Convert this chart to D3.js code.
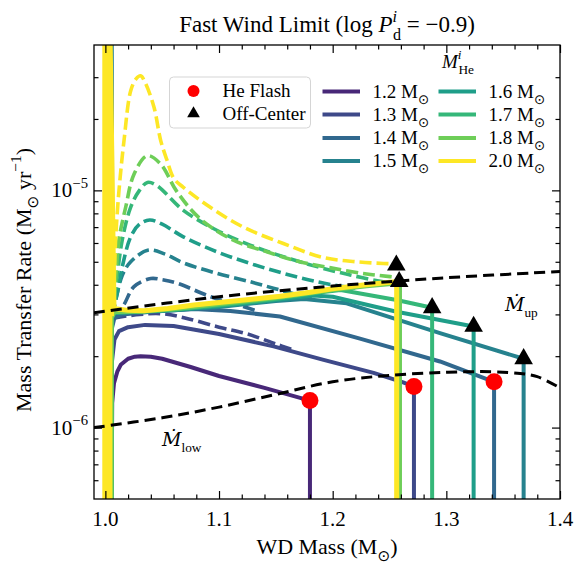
<!DOCTYPE html>
<html>
<head>
<meta charset="utf-8">
<script src="https://cdn.jsdelivr.net/npm/d3@7"></script>
<style>
  body { margin: 0; background: #fff; }
  svg { display: block; }
</style>
</head>
<body>
<div id="chart"></div>
<script>
// initial He-star masses (legend order)
const masses = [1.2, 1.3, 1.4, 1.5, 1.6, 1.7, 1.8, 2.0];

// solid tracks: [WD mass, mass transfer rate]
const solid12 = [[1.0055, 5e-7], [1.006, 1.27e-6], [1.0076, 1.54e-6], [1.0105, 1.72e-6], [1.0135, 1.84e-6], [1.02, 1.95e-6], [1.026, 1.99e-6], [1.031, 2.0e-6], [1.04, 1.99e-6], [1.05, 1.95e-6], [1.075, 1.8e-6], [1.1, 1.65e-6], [1.14, 1.47e-6], [1.18, 1.3e-6], [1.18, 5e-7]];
const solid13 = [[1.0055, 5e-7], [1.0058, 1.9e-6], [1.008, 2.35e-6], [1.012, 2.55e-6], [1.02, 2.65e-6], [1.035, 2.71e-6], [1.06, 2.68e-6], [1.1, 2.48e-6], [1.148, 2.2e-6], [1.192, 1.93e-6], [1.236, 1.7e-6], [1.262, 1.55e-6], [1.2715, 1.49e-6], [1.2715, 5e-7]];
const solid14 = [[1.0055, 5e-7], [1.0056, 2.6e-6], [1.008, 2.9e-6], [1.015, 3.0e-6], [1.04, 3.08e-6], [1.078, 3.16e-6], [1.11, 3.1e-6], [1.1536, 2.94e-6], [1.224, 2.37e-6], [1.2944, 1.9e-6], [1.342, 1.56e-6], [1.342, 5e-7]];
const solid15 = [[1.0056, 5e-7], [1.0056, 5e-5], [1.0062, 3.0e-6], [1.009, 3.05e-6], [1.03, 3.08e-6], [1.06, 3.12e-6], [1.1, 3.22e-6], [1.15, 3.42e-6], [1.175, 3.48e-6], [1.2123, 3.34e-6], [1.2944, 2.5e-6], [1.368, 1.95e-6], [1.368, 5e-7]];
const solid16 = [[1.0055, 5e-7], [1.0056, 2.9e-6], [1.008, 3.05e-6], [1.03, 3.08e-6], [1.06, 3.13e-6], [1.1, 3.25e-6], [1.15, 3.45e-6], [1.183, 3.6e-6], [1.2, 3.56e-6], [1.2563, 3.08e-6], [1.324, 2.67e-6], [1.324, 5e-7]];
const solid17 = [[1.0055, 5e-7], [1.0056, 2.9e-6], [1.008, 3.05e-6], [1.03, 3.08e-6], [1.06, 3.14e-6], [1.1, 3.28e-6], [1.15, 3.48e-6], [1.19, 3.72e-6], [1.207, 3.8e-6], [1.2563, 3.45e-6], [1.2875, 3.2e-6], [1.2875, 5e-7]];
const solid18 = [[1.0055, 5e-7], [1.0056, 2.9e-6], [1.008, 3.07e-6], [1.03, 3.08e-6], [1.06, 3.15e-6], [1.1, 3.31e-6], [1.15, 3.52e-6], [1.2, 3.8e-6], [1.23, 3.94e-6], [1.2592, 4.06e-6], [1.2592, 5e-7]];
const solid20 = [[0.9995, 5e-7], [0.9995, 5e-5], [1.0018, 5e-5], [1.0018, 5e-7], [1.004, 5e-7], [1.004, 5e-5], [1.0076, 3.18e-6], [1.02, 3.12e-6], [1.034, 3.11e-6], [1.055, 3.18e-6], [1.078, 3.29e-6], [1.1, 3.37e-6], [1.122, 3.45e-6], [1.1536, 3.58e-6], [1.18, 3.72e-6], [1.2, 3.85e-6], [1.225, 3.98e-6], [1.2504, 4.1e-6], [1.2563, 4.12e-6], [1.2563, 5e-7]];

// dashed tracks
const dashed13 = [[1.008, 2.9e-6], [1.03, 3.0e-6], [1.05, 3.02e-6], [1.07, 2.9e-6], [1.1, 2.65e-6], [1.125, 2.48e-6], [1.15, 2.25e-6], [1.165, 2.13e-6]];
const dashed14 = [[1.006, 2.95e-6], [1.012, 3.1e-6], [1.0164, 3.3e-6], [1.0252, 3.93e-6], [1.0399, 4.25e-6], [1.05, 4.2e-6], [1.0633, 4.06e-6], [1.0927, 3.56e-6], [1.122, 3.23e-6], [1.135, 3.08e-6]];
const dashed15 = [[1.006, 2.95e-6], [1.01, 3.6e-6], [1.015, 4.4e-6], [1.0223, 5.0e-6], [1.038, 5.6e-6], [1.052, 5.4e-6], [1.0686, 4.95e-6], [1.098, 4.47e-6], [1.1273, 4.12e-6], [1.1478, 3.87e-6], [1.17, 3.62e-6], [1.185, 3.5e-6]];
const dashed16 = [[1.006, 2.95e-6], [1.011, 3.8e-6], [1.0149, 4.77e-6], [1.0223, 6.37e-6], [1.03, 7.2e-6], [1.039, 7.5e-6], [1.05, 7.2e-6], [1.0686, 6.37e-6], [1.098, 5.51e-6], [1.1273, 4.92e-6], [1.1566, 4.47e-6], [1.186, 4.12e-6], [1.2093, 3.93e-6], [1.22, 3.88e-6]];
const dashed17 = [[1.006, 2.95e-6], [1.01, 4.2e-6], [1.0149, 6.2e-6], [1.0223, 8.5e-6], [1.03, 1.0e-5], [1.037, 1.08e-5], [1.045, 1.05e-5], [1.0686, 8.24e-6], [1.098, 6.79e-6], [1.1273, 5.88e-6], [1.1566, 5.25e-6], [1.186, 4.77e-6], [1.2152, 4.4e-6], [1.2445, 4.12e-6], [1.255, 4.08e-6]];
const dashed18 = [[1.006, 2.95e-6], [1.009, 4.2e-6], [1.012, 6.2e-6], [1.0179, 8.5e-6], [1.0252, 1.17e-5], [1.0369, 1.4e-5], [1.0487, 1.29e-5], [1.0628, 9.9e-6], [1.0833, 7.6e-6], [1.1126, 6.17e-6], [1.142, 5.51e-6], [1.1712, 5.0e-6], [1.2006, 4.69e-6], [1.2299, 4.44e-6], [1.2504, 4.33e-6], [1.256, 4.3e-6]];
const dashed20 = [[1.006, 2.95e-6], [1.008, 4.5e-6], [1.009, 6.2e-6], [1.012, 1.0e-5], [1.0164, 1.62e-5], [1.0223, 2.63e-5], [1.027, 2.95e-5], [1.031, 3.04e-5], [1.035, 2.85e-5], [1.0428, 2.24e-5], [1.0487, 1.62e-5], [1.054, 1.35e-5], [1.0604, 1.12e-5], [1.0686, 1.03e-5], [1.092, 8.5e-6], [1.1214, 7.0e-6], [1.1566, 5.97e-6], [1.1917, 5.21e-6], [1.2211, 5.0e-6], [1.2445, 4.92e-6], [1.2555, 4.9e-6]];

// stability limits
const mdotUp = [[0.99, 3.05e-6], [1.1, 3.56e-6], [1.2, 3.95e-6], [1.3, 4.28e-6], [1.4, 4.55e-6]];
const mdotLow = [[0.99, 1.0e-6], [1.05, 1.1e-6], [1.1, 1.22e-6], [1.15, 1.38e-6], [1.2, 1.56e-6], [1.25, 1.66e-6], [1.3, 1.71e-6], [1.34, 1.72e-6], [1.365, 1.69e-6], [1.38, 1.64e-6], [1.4, 1.47e-6]];

// end points
const heFlash = [[1.18, 1.3e-6], [1.2715, 1.49e-6], [1.342, 1.56e-6]];
const offCenter = [[1.256, 4.84e-6], [1.2585, 4.12e-6], [1.2875, 3.2e-6], [1.324, 2.67e-6], [1.368, 1.95e-6]];

// axes
const xDomain = [0.99, 1.4];
const yDomain = [5e-7, 4.1e-5];
const xMajor = [1.0, 1.1, 1.2, 1.3, 1.4];
const xMinor = [1.02, 1.04, 1.06, 1.08, 1.12, 1.14, 1.16, 1.18, 1.22, 1.24, 1.26, 1.28, 1.32, 1.34, 1.36, 1.38];
const yMajor = [1e-6, 1e-5];
const yMajorExp = ["−6", "−5"];
const yMinor = [6e-7, 7e-7, 8e-7, 9e-7, 2e-6, 3e-6, 4e-6, 5e-6, 6e-6, 7e-6, 8e-6, 9e-6, 2e-5, 3e-5];

const solids = [solid12, solid13, solid14, solid15, solid16, solid17, solid18, solid20];
const dashes = [null, dashed13, dashed14, dashed15, dashed16, dashed17, dashed18, dashed20];

const W = 588, H = 570;
const plot = { left: 94, right: 560, top: 45, bottom: 499 };
const serif = "Liberation Serif";
const symbolFont = "DejaVu Sans";   // has the sun symbol
const dotFont = "DejaVu Serif";     // has M with dot above

const x = d3.scaleLinear().domain(xDomain).range([plot.left, plot.right]);
const y = d3.scaleLog().domain(yDomain).range([plot.bottom, plot.top]);
const color = d3.scaleSequential(d3.interpolateViridis).domain([1.1, 2.0]);

const svg = d3.select("#chart").append("svg")
  .attr("width", W).attr("height", H)
  .attr("viewBox", [0, 0, W, H])
  .attr("font-family", serif);

svg.append("defs").append("clipPath").attr("id", "clip")
  .append("rect")
  .attr("x", plot.left).attr("y", plot.top)
  .attr("width", plot.right - plot.left).attr("height", plot.bottom - plot.top);

// writes a label made of plain / italic / sub / sup pieces
function mathText(text, parts, size) {
  let shift = 0;
  text.attr("font-family", serif);
  parts.forEach((p) => {
    const t = text.append("tspan").text(p.t);
    const target = p.sup ? -0.45 * size : p.sub ? 0.33 * size : 0;
    t.attr("dy", target - shift);
    shift = target;
    if (p.sup || p.sub) t.attr("font-size", size * 0.7);
    if (p.it) t.attr("font-style", "italic");
    if (p.dx) t.attr("dx", p.dx);
    if (p.font) t.attr("font-family", p.font);
  });
  return text;
}

const lineSolid = d3.line()
  .x((d) => x(d[0]))
  .y((d) => y(d[1]));

const lineSmooth = d3.line()
  .x((d) => x(d[0]))
  .y((d) => y(d[1]))
  .curve(d3.curveCatmullRom.alpha(0.5));

const tracks = svg.append("g").attr("clip-path", "url(#clip)");

masses.forEach((m, i) => {
  const c = color(m);
  tracks.append("path")
    .attr("d", lineSolid(solids[i]))
    .attr("fill", "none")
    .attr("stroke", c)
    .attr("stroke-width", m === 2.0 ? 5 : 4)
    .attr("stroke-linejoin", "round");
  if (dashes[i]) {
    tracks.append("path")
      .attr("d", lineSmooth(dashes[i]))
      .attr("fill", "none")
      .attr("stroke", c)
      .attr("stroke-width", 3.6)
      .attr("stroke-dasharray", "12,5");
  }
});

[mdotUp, mdotLow].forEach((d) => {
  tracks.append("path")
    .attr("d", lineSmooth(d))
    .attr("fill", "none")
    .attr("stroke", "#000")
    .attr("stroke-width", 3)
    .attr("stroke-dasharray", "11,6");
});

const tri = d3.symbol().type(d3.symbolTriangle);

tracks.selectAll(".flash")
  .data(heFlash)
  .join("circle")
  .attr("class", "flash")
  .attr("cx", (d) => x(d[0]))
  .attr("cy", (d) => y(d[1]))
  .attr("r", 8.5)
  .attr("fill", "#ff0000");

tracks.selectAll(".offc")
  .data(offCenter)
  .join("path")
  .attr("class", "offc")
  .attr("d", tri.size(150)())
  .attr("transform", (d) => `translate(${x(d[0])},${y(d[1])})`)
  .attr("fill", "#000");

// frame and ticks (inward, all four sides)
const ax = svg.append("g");
const tickStyle = (g) => {
  g.select(".domain").remove();
  g.selectAll(".tick line").attr("stroke", "#000").attr("stroke-width", 1.2);
  g.selectAll(".tick text").remove();
};
ax.append("g").attr("transform", `translate(0,${plot.bottom})`)
  .call(d3.axisBottom(x).tickValues(xMajor).tickSize(-8)).call(tickStyle);
ax.append("g").attr("transform", `translate(0,${plot.bottom})`)
  .call(d3.axisBottom(x).tickValues(xMinor).tickSize(-4.5)).call(tickStyle);
ax.append("g").attr("transform", `translate(0,${plot.top})`)
  .call(d3.axisTop(x).tickValues(xMajor).tickSize(-8)).call(tickStyle);
ax.append("g").attr("transform", `translate(0,${plot.top})`)
  .call(d3.axisTop(x).tickValues(xMinor).tickSize(-4.5)).call(tickStyle);
ax.append("g").attr("transform", `translate(${plot.left},0)`)
  .call(d3.axisLeft(y).tickValues(yMajor).tickSize(-8)).call(tickStyle);
ax.append("g").attr("transform", `translate(${plot.left},0)`)
  .call(d3.axisLeft(y).tickValues(yMinor).tickSize(-4.5)).call(tickStyle);
ax.append("g").attr("transform", `translate(${plot.right},0)`)
  .call(d3.axisRight(y).tickValues(yMajor).tickSize(-8)).call(tickStyle);
ax.append("g").attr("transform", `translate(${plot.right},0)`)
  .call(d3.axisRight(y).tickValues(yMinor).tickSize(-4.5)).call(tickStyle);

ax.append("rect")
  .attr("x", plot.left).attr("y", plot.top)
  .attr("width", plot.right - plot.left).attr("height", plot.bottom - plot.top)
  .attr("fill", "none").attr("stroke", "#000").attr("stroke-width", 1.3);

const fs = 21;   // tick labels
const ts = 23;   // title
const als = 22;  // axis titles
const ls = 19;   // legend and in-plot labels

ax.selectAll(".xlab")
  .data(xMajor)
  .join("text")
  .attr("class", "xlab")
  .attr("x", (d) => x(d))
  .attr("y", plot.bottom + 27)
  .attr("text-anchor", "middle")
  .attr("font-size", fs)
  .attr("font-family", serif)
  .text((d) => d.toFixed(1));

yMajor.forEach((v, i) => {
  const t = ax.append("text")
    .attr("x", plot.left - 6)
    .attr("y", y(v) + 7)
    .attr("text-anchor", "end")
    .attr("font-size", fs);
  mathText(t, [{ t: "10" }, { t: yMajorExp[i], sup: true }], fs);
});

// titles
mathText(svg.append("text")
  .attr("x", (plot.left + plot.right) / 2).attr("y", 32)
  .attr("text-anchor", "middle").attr("font-size", ts),
  [{ t: "Fast Wind Limit (log " }, { t: "P", it: true }, { t: "i", sup: true, it: true },
   { t: "d", sub: true, dx: -4 }, { t: " = −0.9)" }], ts);

mathText(svg.append("text")
  .attr("x", (plot.left + plot.right) / 2).attr("y", 554)
  .attr("text-anchor", "middle").attr("font-size", als),
  [{ t: "WD Mass (M" }, { t: "⊙", sub: true, font: symbolFont }, { t: ")" }], als);

mathText(svg.append("text")
  .attr("transform", `translate(31,${(plot.top + plot.bottom) / 2 + 8}) rotate(-90)`)
  .attr("text-anchor", "middle").attr("font-size", als),
  [{ t: "Mass Transfer Rate (M" }, { t: "⊙", sub: true, font: symbolFont }, { t: " yr" }, { t: "−1", sup: true }, { t: ")" }], als);

// limit labels
mathText(svg.append("text").attr("x", 505).attr("y", 311).attr("font-size", ls),
  [{ t: "Ṁ", it: true, font: dotFont }, { t: "up", sub: true }], ls);
mathText(svg.append("text").attr("x", 162).attr("y", 446).attr("font-size", ls),
  [{ t: "Ṁ", it: true, font: dotFont }, { t: "low", sub: true }], ls);

// marker legend
const lg = svg.append("g");
lg.append("rect")
  .attr("x", 169.5).attr("y", 77).attr("width", 141).attr("height", 51)
  .attr("rx", 4).attr("fill", "#fff").attr("fill-opacity", 0.8)
  .attr("stroke", "#d5d5d5").attr("stroke-width", 1);
lg.append("circle").attr("cx", 193.5).attr("cy", 91).attr("r", 6).attr("fill", "#ff0000");
lg.append("path").attr("d", tri.size(70)()).attr("transform", "translate(193.5,113.5)").attr("fill", "#000");
lg.append("text").attr("x", 222.5).attr("y", 97).attr("font-size", ls).attr("font-family", serif).text("He Flash");
lg.append("text").attr("x", 222.5).attr("y", 119.5).attr("font-size", ls).attr("font-family", serif).text("Off-Center");

// mass legend
mathText(lg.append("text").attr("x", 458).attr("y", 68).attr("text-anchor", "middle").attr("font-size", ls),
  [{ t: "M", it: true }, { t: "i", sup: true, it: true }, { t: "He", sub: true, dx: -3 }], ls);

const rowY = [91.5, 114.5, 138, 161];
const colX = [322.5, 438.5];
masses.forEach((m, i) => {
  const cx = colX[Math.floor(i / 4)];
  const cy = rowY[i % 4];
  lg.append("line")
    .attr("x1", cx).attr("x2", cx + 37.5)
    .attr("y1", cy).attr("y2", cy)
    .attr("stroke", color(m)).attr("stroke-width", 4);
  mathText(lg.append("text").attr("x", cx + 50).attr("y", cy + 6).attr("font-size", ls),
    [{ t: m.toFixed(1) + " M" }, { t: "⊙", sub: true, font: symbolFont }], ls);
});
</script>
</body>
</html>
